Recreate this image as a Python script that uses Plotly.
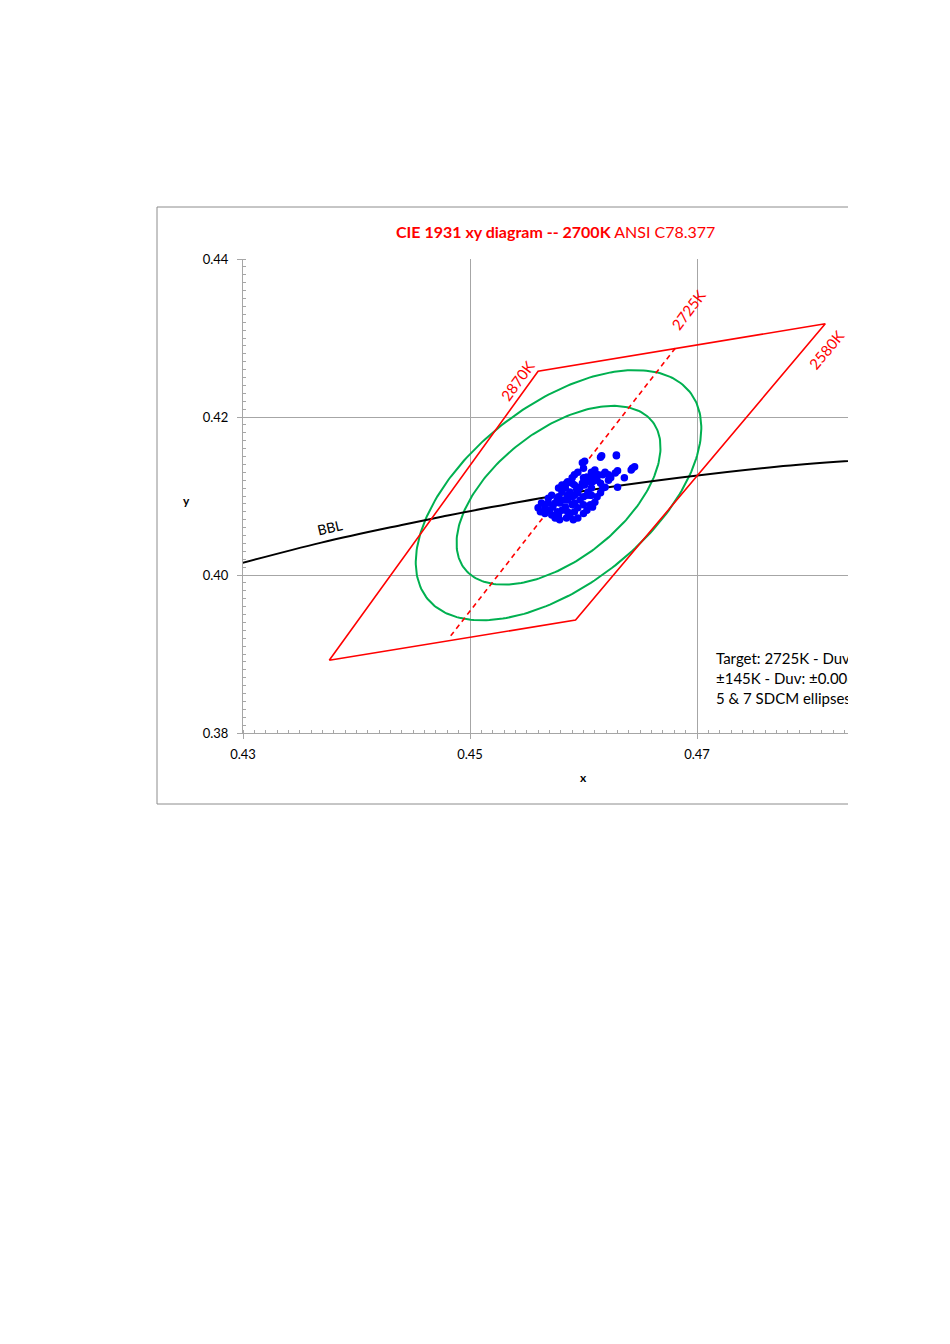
import numpy as np
import plotly.graph_objects as go

# ---------------- data ----------------
# ANSI C78.377 2700K quadrangle (closed)
quad_x = [0.4376, 0.4560, 0.4813, 0.4593, 0.4376]
quad_y = [0.3892, 0.4258, 0.4318, 0.3943, 0.3892]

# 2725K iso-CCT target line
cct_x = [0.4483, 0.4683]
cct_y = [0.3923, 0.4291]

# Black body locus (Planckian) points
bbl_x = [0.4234, 0.4369, 0.4442, 0.4476, 0.4519, 0.4599, 0.4684, 0.4770, 0.4862]
bbl_y = [0.3990, 0.4041, 0.4064, 0.4074, 0.4086, 0.4106, 0.4123, 0.4137, 0.4147]

# SDCM ellipse parameters (1-step) and steps drawn
ell_center = (0.4578, 0.4101)
ell_a1 = 0.00256
ell_b1 = 0.00134
ell_theta_deg = 56.7
ell_steps = [5, 7]

# measured chromaticities
dots_x = [0.4601, 0.4599, 0.4615, 0.4616, 0.4629, 0.4629, 0.4643, 0.4642, 0.4645, 0.4636,
          0.4630, 0.4630, 0.4628, 0.4624, 0.4622, 0.4619, 0.4617, 0.4610, 0.4607, 0.4603,
          0.4600, 0.4612, 0.4608, 0.4595, 0.4592, 0.4590, 0.4586, 0.4590, 0.4617, 0.4619,
          0.4607, 0.4604, 0.4597, 0.4594, 0.4584, 0.4581, 0.4572, 0.4569, 0.4578, 0.4577,
          0.4590, 0.4586, 0.4600, 0.4597, 0.4612, 0.4610, 0.4606, 0.4603, 0.4595, 0.4592,
          0.4584, 0.4581, 0.4573, 0.4570, 0.4563, 0.4560, 0.4566, 0.4562, 0.4578, 0.4575,
          0.4588, 0.4585, 0.4595, 0.4601, 0.4588, 0.4579, 0.4592, 0.4606, 0.4615, 0.4600,
          0.4578, 0.4581, 0.4585, 0.4592, 0.4599, 0.4604, 0.4608, 0.4613, 0.4622, 0.4586,
          0.4592, 0.4595, 0.4603, 0.4607, 0.4615, 0.4582, 0.4575, 0.4569, 0.4590, 0.4600,
          0.4608, 0.4577, 0.4586, 0.4572, 0.4579, 0.4591, 0.4566, 0.4600]
dots_y = [0.4144, 0.4142, 0.4149, 0.4151, 0.4151, 0.4152, 0.4135, 0.4133, 0.4137, 0.4123,
          0.4111, 0.4132, 0.4129, 0.4123, 0.4120, 0.4130, 0.4127, 0.4133, 0.4130, 0.4124,
          0.4123, 0.4120, 0.4118, 0.4130, 0.4127, 0.4123, 0.4118, 0.4116, 0.4110, 0.4111,
          0.4110, 0.4105, 0.4111, 0.4108, 0.4110, 0.4105, 0.4101, 0.4097, 0.4099, 0.4095,
          0.4099, 0.4095, 0.4099, 0.4095, 0.4099, 0.4092, 0.4089, 0.4082, 0.4085, 0.4080,
          0.4086, 0.4082, 0.4086, 0.4082, 0.4091, 0.4085, 0.4085, 0.4080, 0.4076, 0.4072,
          0.4076, 0.4072, 0.4072, 0.4114, 0.4105, 0.4091, 0.4091, 0.4101, 0.4116, 0.4135,
          0.4110, 0.4114, 0.4116, 0.4114, 0.4116, 0.4118, 0.4124, 0.4127, 0.4127, 0.4101,
          0.4101, 0.4104, 0.4101, 0.4101, 0.4104, 0.4095, 0.4091, 0.4091, 0.4089, 0.4089,
          0.4086, 0.4080, 0.4080, 0.4076, 0.4070, 0.4070, 0.4078, 0.4078]

title_bold = "CIE 1931 xy diagram -- 2700K"
title_rest = "ANSI C78.377"
note_lines = ["Target: 2725K - Duv: 0.000", "±145K - Duv: ±0.006", "5 & 7 SDCM ellipses"]

# ---------------- layout geometry (pixels) ----------------
W, H = 950, 1344
L, R, T, B = 243, 848, 259, 733
PX_PER_X = 227 / 0.02
x_range = [0.43, 0.43 + (R - L) / PX_PER_X]
y_range = [0.38, 0.44]


def px_paper(px):
    return (px - L) / (R - L)


def py_paper(py):
    return (B - py) / (B - T)


def px2x(px):
    return x_range[0] + (px - L) / (R - L) * (x_range[1] - x_range[0])


def py2y(py):
    return y_range[1] - (py - T) / (B - T) * (y_range[1] - y_range[0])


FONT = "Lato, 'Open Sans', Arial, sans-serif"
RED = "#FF0000"
GREEN = "#00B050"
GRID = "#A6A6A6"

fig = go.Figure()

# ellipses
t = np.linspace(0, 2 * np.pi, 241)
th = np.deg2rad(ell_theta_deg)
for s in ell_steps:
    a, b = ell_a1 * s, ell_b1 * s
    ex = ell_center[0] + a * np.cos(t) * np.cos(th) - b * np.sin(t) * np.sin(th)
    ey = ell_center[1] + a * np.cos(t) * np.sin(th) + b * np.sin(t) * np.cos(th)
    fig.add_trace(go.Scatter(x=ex, y=ey, mode="lines",
                             line=dict(color=GREEN, width=2), hoverinfo="skip"))

# BBL
fig.add_trace(go.Scatter(x=bbl_x, y=bbl_y, mode="lines",
                         line=dict(color="black", width=2, shape="spline")))

# quadrangle
fig.add_trace(go.Scatter(x=quad_x, y=quad_y, mode="lines",
                         line=dict(color=RED, width=1.6)))
# target line
fig.add_trace(go.Scatter(x=cct_x, y=cct_y, mode="lines",
                         line=dict(color=RED, width=1.6, dash="5px,4px")))

# measured dots
fig.add_trace(go.Scatter(x=dots_x, y=dots_y, mode="markers",
                         marker=dict(color="#0000FF", size=7.5, line=dict(width=0))))

# note text (clipped by plot area like the reference)
note_py = [660, 680, 700]
fig.add_trace(go.Scatter(x=[px2x(716)] * 3, y=[py2y(p) for p in note_py],
                         mode="text", text=note_lines, textposition="middle right",
                         textfont=dict(family=FONT, size=15, color="black"),
                         cliponaxis=True, hoverinfo="skip"))

fig.update_layout(
    width=W, height=H,
    margin=dict(l=L, r=W - R, t=T, b=H - B, pad=0),
    paper_bgcolor="white", plot_bgcolor="white",
    showlegend=False,
    font=dict(family=FONT, size=13, color="black"),
)

axis_common = dict(
    showgrid=True, gridcolor=GRID, gridwidth=1,
    showline=True, linecolor=GRID, linewidth=1,
    ticks="outside", ticklen=5, tickcolor=GRID, tickwidth=1,
    zeroline=False, dtick=0.02, tickformat=".2f",
    tickfont=dict(family=FONT, size=13, color="black"),
    minor=dict(ticks="inside", dtick=0.001, ticklen=3, tickcolor=GRID, showgrid=False),
)
fig.update_xaxes(range=x_range, tick0=0.43, ticklabelstandoff=4, **axis_common)
fig.update_yaxes(range=y_range, tick0=0.38, ticklabelstandoff=6, **axis_common)

# outer chart frame (left, top, bottom edges)
frame_col = "#8C8C8C"
for (x0, y0, x1, y1) in [(157, 207, 157, 804), (157, 207, R, 207), (157, 804, R, 804)]:
    fig.add_shape(type="line", xref="paper", yref="paper",
                  x0=px_paper(x0), y0=py_paper(y0), x1=px_paper(x1), y1=py_paper(y1),
                  line=dict(color=frame_col, width=1))


def label(txt, lx, ly, size, color, angle=0):
    fig.add_annotation(xref="paper", yref="paper", x=px_paper(lx), y=py_paper(ly),
                       text=txt, showarrow=False, textangle=angle,
                       xanchor="center", yanchor="middle",
                       font=dict(family=FONT, size=size, color=color))


# title
label(f"<b>{title_bold}</b> {title_rest}", 555, 231, 16, RED)

# axis titles
label("<b>y</b>", 186, 500, 12, "black")
label("<b>x</b>", 583, 777, 12, "black")

# rotated labels
for txt, lx, ly, ang in [("2870K", 517, 381, -54), ("2725K", 688, 310, -53), ("2580K", 826, 350, -50)]:
    label(txt, lx, ly, 15, RED, ang)
label("BBL", 329, 527, 14, "black", -13)

fig.write_html("out.html")
